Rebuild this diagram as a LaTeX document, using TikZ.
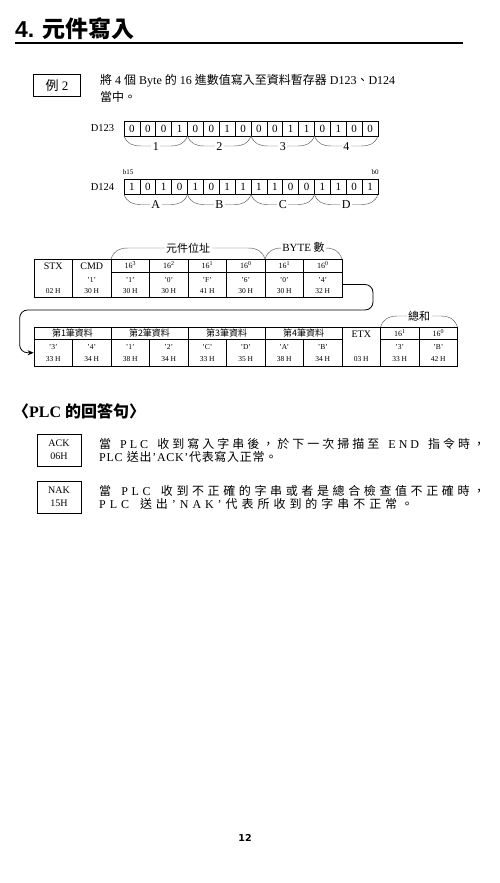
\documentclass[tikz,border=0pt]{standalone}
\usepackage{fontspec}
\setmainfont{Liberation Serif}
\newfontfamily\cjk{Noto Sans CJK TC}
\newfontfamily\hsans{Liberation Sans}
\newfontfamily\dvs{DejaVu Sans}
\usetikzlibrary{arrows.meta}
\newcommand\C[1]{{\cjk #1}}
\newcommand\fs[1]{\fontsize{#1}{#1}\selectfont}
\makeatletter
\def\LS#1{\LS@#1\@nil}
\def\LS@#1{\ifx#1\@nil\else\LS@one{#1}\expandafter\LS@\fi}
\def\LS@one#1{\ifnum`#1>"2000 {\cjk #1}\else #1\fi\hfil}
\makeatother
\newcommand\brc[4]{\draw[brc] (#1,#3) .. controls ({#1+3},{#3+0.75*(#4)}) and ({#1+8},{#3+(#4)}) .. ({#1+17},{#3+(#4)}) -- ({#2-17},{#3+(#4)}) .. controls ({#2-8},{#3+(#4)}) and ({#2-3},{#3+0.75*(#4)}) .. (#2,#3);}
\begin{document}
\begin{tikzpicture}[x=1pt,y=-1pt,
  cell/.style={draw, line width=0.7pt, inner sep=0},
  bit/.style={draw, line width=0.7pt, inner sep=0, minimum width=15.875pt, minimum height=15pt, font=\fs{11}, text height=7.4pt, text depth=0pt},
  brc/.style={line width=0.45pt, draw=black!65},
  brl/.style={fill=white, inner sep=1.5pt, font=\fs{12}, text height=8pt, text depth=0pt},
  hd/.style={inner sep=0, font=\fs{10}, text height=6.6pt, text depth=0pt},
  sp/.style={inner sep=0, font=\fs{8}, text height=5.4pt, text depth=0pt},
  tx/.style={inner sep=0, font=\fs{7.5}, text height=5pt, text depth=0pt},
  cj/.style={inner sep=0, font=\cjk\fs{9}, text height=6.8pt, text depth=0pt},
  conn/.style={line width=0.8pt, rounded corners=8pt, -{Stealth[length=6pt,width=5pt]}},
  para/.style={anchor=west, inner sep=0, font=\fs{12}}]
\useasboundingbox (0,0) rectangle (500,883);
\fill[white] (0,0) rectangle (500,883);
% title
\node[anchor=west, inner sep=0] (title) at (15,29) {\hsans\bfseries\fs{23}4. \C{元件寫入}};
\coordinate (rl) at (15,43);
\coordinate (rr) at (463,43);
\draw[line width=2pt] (rl) -- (rr);
% example
\node[draw, line width=1.1pt, minimum width=47pt, minimum height=22pt, inner sep=0, font=\fs{13}] (ex) at (57,85.5) {\C{例} 2};
\node[para] (d1) at (100,81) {\C{將} 4 \C{個} Byte \C{的} 16 \C{進數值寫入至資料暫存器} D123\C{、}D124};
\node[para] (d2) at (100,97) {\C{當中。}};
% D123
\node[inner sep=0, font=\fs{10.5}] (l123) at (102.5,128.5) {D123};
\foreach \b [count=\i from 0] in {0,0,0,1,0,0,1,0,0,0,1,1,0,1,0,0}
  {\node[bit] (a\i) at ({131.94+15.875*\i},128.5) {\b};}
\foreach \g/\t in {0/1,1/2,2/3,3/4}{
  \pgfmathsetmacro\xa{124+63.5*\g}\pgfmathsetmacro\xb{\xa+63.5}
  \brc{\xa}{\xb}{136}{10}
  \node[brl] (ba\g) at ({(\xa+\xb)/2},146) {\t};}
% D124
\node[inner sep=0, font=\fs{7}] (b15) at (128,172) {b15};
\node[inner sep=0, font=\fs{7}] (b0) at (375,172) {b0};
\node[inner sep=0, font=\fs{10.5}] (l124) at (102.5,187) {D124};
\foreach \b [count=\i from 0] in {1,0,1,0,1,0,1,1,1,1,0,0,1,1,0,1}
  {\node[bit] (c\i) at ({131.94+15.875*\i},187) {\b};}
\foreach \g/\t in {0/A,1/B,2/C,3/D}{
  \pgfmathsetmacro\xa{124+63.5*\g}\pgfmathsetmacro\xb{\xa+63.5}
  \brc{\xa}{\xb}{194.5}{10}
  \node[brl] (bc\g) at ({(\xa+\xb)/2},204.5) {\t};}
% table 1
\brc{111}{265}{259}{-11}
\node[brl, font=\cjk\fs{11}, text height=8.4pt] (lad) at (188,248) {元件位址};
\brc{265}{342}{259}{-11}
\node[brl, font=\fs{11}, text height=7.4pt] (lby) at (303.5,248) {BYTE \C{數}};
\node[cell, minimum width=38.5pt, minimum height=38pt] (s0) at (53.25,278) {};
\node[hd] (s0a) at (53.25,266) {STX};
\node[tx] (s0b) at (53.25,290.5) {02 H};
\node[cell, minimum width=38.5pt, minimum height=38pt] (s1) at (91.75,278) {};
\node[hd] (s1a) at (91.75,266) {CMD};
\node[tx] (s1q) at (91.75,279.5) {'1'};
\node[tx] (s1b) at (91.75,290.5) {30 H};
\foreach \k/\h/\q/\r in {2/3/1/30 H,3/2/0/30 H,4/1/F/41 H,5/0/6/30 H,6/1/0/30 H,7/0/4/32 H}{
  \node[cell, minimum width=38.5pt, minimum height=13pt] (h\k) at ({53.25+38.5*\k},265.5) {};
  \node[sp] (ht\k) at ({53.25+38.5*\k},266) {16\textsuperscript{\h}};
  \node[cell, minimum width=38.5pt, minimum height=25pt] (p\k) at ({53.25+38.5*\k},284.5) {};
  \node[tx] (q\k) at ({53.25+38.5*\k},279.5) {'\q'};
  \node[tx] (r\k) at ({53.25+38.5*\k},290.5) {\r};}
% table 2
\brc{380.5}{457.5}{327}{-11}
\node[brl, font=\cjk\fs{11}, text height=8.4pt] (lsum) at (419,316) {總和};
\foreach \g/\n in {0/1,1/2,2/3,3/4}{
  \node[cell, minimum width=77pt, minimum height=12.5pt] (g\n) at ({72.5+77*\g},333.25) {};
  \node[cj] (gt\n) at ({72.5+77*\g},333.25) {第{\n}筆資料};}
\foreach \k/\q/\r in {0/3/33 H,1/4/34 H,2/1/38 H,3/2/34 H,4/C/33 H,5/D/35 H,6/A/38 H,7/B/34 H}{
  \node[cell, minimum width=38.5pt, minimum height=26.5pt] (u\k) at ({53.25+38.5*\k},352.75) {};
  \node[tx] (uq\k) at ({53.25+38.5*\k},346.5) {'\q'};
  \node[tx] (ur\k) at ({53.25+38.5*\k},358.5) {\r};}
\node[cell, minimum width=38.5pt, minimum height=39pt] (etx) at (361.25,346.5) {};
\node[hd] (etxa) at (361.25,334) {ETX};
\node[tx] (etxb) at (361.25,358.5) {03 H};
\foreach \k/\h/\q/\r in {9/1/3/33 H,10/0/B/42 H}{
  \node[cell, minimum width=38.5pt, minimum height=12.5pt] (k\k) at ({53.25+38.5*\k},333.25) {};
  \node[sp] (kt\k) at ({53.25+38.5*\k},333.5) {16\textsuperscript{\h}};
  \node[cell, minimum width=38.5pt, minimum height=26.5pt] (v\k) at ({53.25+38.5*\k},352.75) {};
  \node[tx] (vq\k) at ({53.25+38.5*\k},346.5) {'\q'};
  \node[tx] (vr\k) at ({53.25+38.5*\k},358.5) {\r};}
% connector
\draw[conn] (p7.east) -| (373,310) -| ([xshift=-14pt]u0.west) -- (u0.west);
% PLC reply
\node[anchor=west, inner sep=0] (reply) at (13,411) {\fs{16}\bfseries\C{〈}PLC \C{的回答句〉}};
\node[draw, line width=0.7pt, minimum width=44pt, minimum height=32pt, inner sep=0, align=center, font=\fontsize{10}{13}\selectfont] (ack) at (59,450) {ACK\\06H};
\node[draw, line width=0.7pt, minimum width=44pt, minimum height=32pt, inner sep=0, align=center, font=\fontsize{10}{13}\selectfont] (nak) at (59,497) {NAK\\15H};
\node[para] (pa1) at (99,444) {\hbox to 386pt{\LS{當~PLC~收到寫入字串後，於下一次掃描至~END~指令時，}\unskip}};
\node[para] (pa2) at (99,457) {\hbox to 178pt{\LS{PLC~送出'ACK'代表寫入正常。}\unskip}};
\node[para] (pn1) at (99,491) {\hbox to 386pt{\LS{當~PLC~收到不正確的字串或者是總合檢查值不正確時，}\unskip}};
\node[para] (pn2) at (99,504) {\hbox to 314pt{\LS{PLC~送出'NAK'代表所收到的字串不正常。}\unskip}};
% page number
\node[inner sep=0, font=\dvs\bfseries\fs{9.5}] (pg) at (245,838) {12};
\end{tikzpicture}
\end{document}
